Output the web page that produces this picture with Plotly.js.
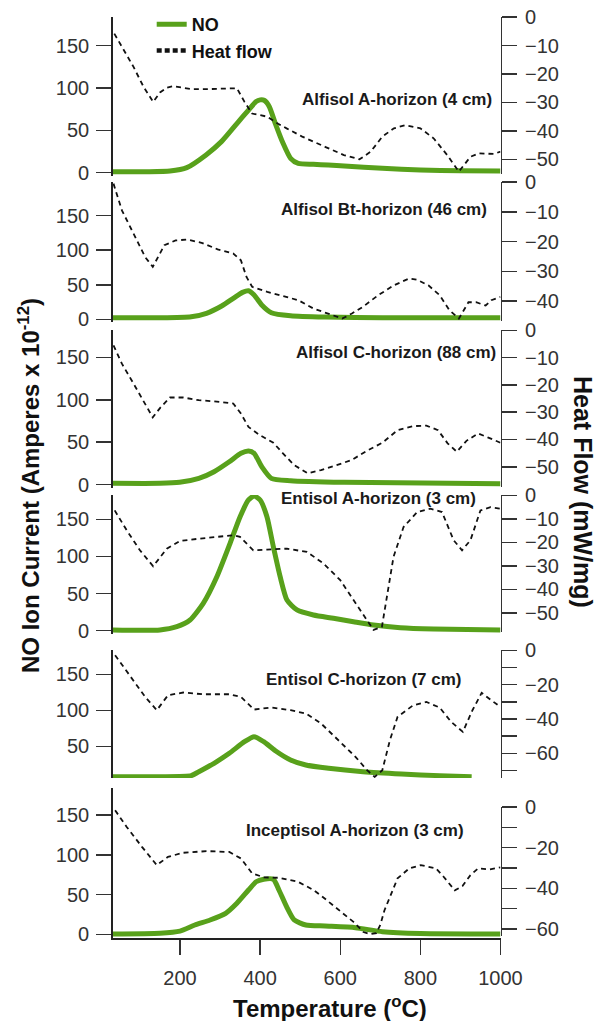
<!DOCTYPE html>
<html>
<head>
<meta charset="utf-8">
<script src="https://cdn.plot.ly/plotly-3.0.1.min.js"></script>
<style>html,body{margin:0;padding:0;background:#fff;}#chart{width:599px;height:1021px;}</style>
</head>
<body>
<div id="chart"></div>
<script>
// ---------- DATA ----------
const panelLabels = ["Alfisol A-horizon (4 cm)", "Alfisol Bt-horizon (46 cm)", "Alfisol C-horizon (88 cm)",
  "Entisol A-horizon (3 cm)", "Entisol C-horizon (7 cm)", "Inceptisol A-horizon (3 cm)"];

// Panel 1: Alfisol A-horizon (4 cm)
const p1_no_T = [32,120,175,217,265,304,342,371,390,400,410,423,438,457,476,495,533,570,610,705,800,900,1000];
const p1_no   = [1.2,1.2,2,6,21,37,58,74,84,86,85.5,78,58,35,17,11,10,9,8,5.2,3.2,2.3,2];
const p1_hf_T = [36,51,84,109,133,150,167,183,230,270,310,342,361,380,418,445,466,505,562,609,648,676,705,734,762,800,833,867,896,925,946,983,1000];
const p1_hf   = [-5.8,-9.3,-17.5,-24.5,-29.8,-26.5,-24.8,-24.3,-25.3,-25.3,-25,-25,-29.8,-33.9,-35,-37.5,-39.1,-42,-45.6,-48.5,-50,-47.3,-42,-39.1,-38,-39.1,-42.6,-48.5,-54.3,-49.1,-47.9,-48.1,-47.3];

// Panel 2: Alfisol Bt-horizon (46 cm)
const p2_no_T = [32,150,228,266,304,333,356,371,385,404,428,476,562,705,1000];
const p2_no   = [2.3,2.3,3.8,8.7,19.3,30.4,39,41.4,35.2,20.7,9.6,5.2,3.3,2.3,2.3];
const p2_hf_T = [34,55,84,113,132,161,189,218,256,294,333,352,366,380,418,457,495,533,571,605,629,657,695,734,772,791,820,848,872,896,920,939,963,977,1000];
const p2_hf   = [-0.5,-9.5,-17.3,-25.2,-28.5,-21.2,-19.6,-19.3,-20.5,-22.6,-24,-26.3,-31.9,-35.2,-36.9,-38.4,-39.7,-42.5,-44.2,-45.9,-44.2,-41.9,-38,-34.7,-32.4,-32.8,-34.7,-38,-43,-45.9,-40.4,-40.4,-41.5,-39.7,-38.6];

// Panel 3: Alfisol C-horizon (88 cm)
const p3_no_T = [32,150,199,247,285,323,352,371,385,404,428,476,610,1000];
const p3_no   = [1.6,1.6,2.8,7.5,15.3,27,37,39.7,37,21.2,7.5,4.7,2.8,1.2];
const p3_hf_T = [34,55,84,113,132,151,175,208,247,285,333,352,371,399,433,457,485,519,552,591,629,667,705,743,782,815,844,868,891,915,944,968,1000];
const p3_hf   = [-5.5,-12.2,-19.5,-26.8,-31.9,-28.3,-24.6,-24.6,-25.6,-26,-26.8,-30.5,-35.4,-38.4,-41.2,-45.1,-49.4,-52.4,-51.2,-49.4,-47.5,-44.1,-41.2,-36.6,-35.1,-34.9,-36.6,-41.4,-44.5,-40.5,-37.8,-39.2,-41.2];

// Panel 4: Entisol A-horizon (3 cm)
const p4_no_T = [32,150,192,225,258,292,325,350,371,385,400,417,433,450,467,492,533,583,633,683,750,833,1000];
const p4_no   = [1,1,5.4,14.4,36.9,72.7,117.7,153.5,176,181.4,176,153.5,113.1,72.7,41.3,27.9,21.1,16.7,12.1,7.7,4,2.3,1];
const p4_hf_T = [37,67,100,133,167,200,250,292,333,350,383,417,467,517,558,600,633,667,683,704,717,733,758,792,825,854,883,904,925,950,975,1000];
const p4_hf   = [-6.4,-14.9,-23.4,-30.2,-22.7,-19.4,-18.4,-17.7,-17,-17.7,-23.4,-23.1,-22.7,-24.1,-29,-36.1,-44.6,-53.1,-57.3,-56,-43.2,-26.2,-13.5,-7.1,-5.7,-7.1,-19.1,-23.4,-19.1,-6.4,-5,-5.7];

// Panel 5: Entisol C-horizon (7 cm)
const p5_no_T = [32,150,228,247,285,323,361,385,409,438,476,514,571,657,753,848,928];
const p5_no   = [7.8,7.8,9.2,14.7,26.4,40.3,56.4,63.3,56.4,43.9,31,24,19.4,14.7,11.5,9.2,7.8];
const p5_hf_T = [38,84,113,142,170,208,256,323,352,385,428,476,514,552,591,638,667,686,705,724,743,782,815,848,877,906,930,953,977,1000];
const p5_hf   = [-2.9,-17.4,-27.1,-34.9,-26.2,-24.6,-25.6,-25.6,-27.1,-34.5,-33.3,-34.9,-36.8,-42.6,-51.3,-62,-69.8,-73.7,-69.8,-52.3,-38.8,-32,-30.1,-33.3,-41.7,-47.5,-34.9,-24.8,-29.1,-33];

// Panel 6: Inceptisol A-horizon (3 cm)
const p6_no_T = [32,150,200,237,275,314,342,371,390,409,433,447,466,485,514,562,638,705,800,1000];
const p6_no   = [0.4,1.3,4,11.7,18,26.4,39,55.7,66.1,69.2,69.2,55.7,34.7,18,11.7,10.4,8.3,3.3,1,0.4];
const p6_hf_T = [38,67,105,142,170,208,266,323,352,380,409,447,495,533,558,581,633,658,675,690,700,710,722,743,772,801,839,858,886,905,925,944,972,1000];
const p6_hf   = [-1.6,-9.8,-19.6,-28.6,-24.5,-22.5,-21.7,-22.1,-25.3,-32.6,-34.6,-34.8,-36.8,-40.8,-44.5,-48.2,-56.5,-61.5,-62.5,-62,-58,-51,-45,-35.1,-30.2,-28.6,-30.2,-34.3,-41,-38.9,-33.5,-30.2,-30.7,-29.7];

const leftTicks  = [[0,50,100,150],[0,50,100,150],[0,50,100,150],[0,50,100,150],[50,100,150],[0,50,100,150]];
const rightTicks = [[0,-10,-20,-30,-40,-50],[0,-10,-20,-30,-40],[0,-10,-20,-30,-40,-50],[0,-10,-20,-30,-40,-50],
                    [0,-20,-40,-60],[0,-20,-40,-60]];
const rightMinorStep = [null,null,null,null,10,10];
const xTicks = [200,400,600,800,1000];

// ---------- LAYOUT GEOMETRY (pixels) ----------
const W = 599, H = 1021;
const FONT = '"Liberation Sans", Arial, Helvetica, sans-serif';
const GREEN = '#58a11b';
const fy = p => 1 - p / H;
// [domTop, domBot, valA, pxA, valB, pxB]
const leftGeo = [
  [16.7,176,150,45.7,0,172.7],
  [181.7,322,150,215.7,0,319.3],
  [330,488,150,357.3,0,484.7],
  [495,634,150,519.3,0,630.7],
  [650,778,150,674.3,50,746.3],
  [788.3,937.7,150,815,0,934.3]
];
const rightGeo = [
  [16.7,174,0,16.7,-50,159.3],
  [181.7,321,0,181.7,-40,301],
  [330,487,0,330,-50,466.7],
  [495,632,0,495,-50,612.7],
  [650,778,0,650,-60,753.3],
  [806.7,936,0,806.7,-60,929]
];
const labelPos = [[494,99.3],[489,209.3],[498,352.3],[478,498.3],[464,679.3],[466,830]];
function rangeFrom(g){
  const [top,bot,vA,pA,vB,pB] = g; const k = (vB - vA)/(pB - pA);
  return [vA + (bot - pA)*k, vA + (top - pA)*k];
}

const NO_T = [p1_no_T,p2_no_T,p3_no_T,p4_no_T,p5_no_T,p6_no_T];
const NO_V = [p1_no,p2_no,p3_no,p4_no,p5_no,p6_no];
const HF_T = [p1_hf_T,p2_hf_T,p3_hf_T,p4_hf_T,p5_hf_T,p6_hf_T];
const HF_V = [p1_hf,p2_hf,p3_hf,p4_hf,p5_hf,p6_hf];

const traces = [];
const layout = {
  width: W, height: H, margin: {l:0,r:0,t:0,b:0},
  paper_bgcolor: '#fff', plot_bgcolor: 'rgba(0,0,0,0)',
  font: {family: FONT, color: '#333', size: 20},
  showlegend: true,
  legend: {x: 151.7/W, xanchor: 'left', y: fy(6), yanchor: 'top', bgcolor: 'rgba(0,0,0,0)',
           font: {family: FONT, size: 18, color: '#111', weight: 'bold'}, tracegroupgap: 0, itemwidth: 30},
  xaxis: {domain: [112.7/W, 500.5/W], range: [32, 1000], anchor: 'y6', tickvals: xTicks,
          ticks: 'outside', ticklen: 15, tickwidth: 1.5, tickcolor: '#333', ticklabelstandoff: 6,
          showline: true, linewidth: 2, linecolor: '#222', showgrid: false, zeroline: false,
          tickfont: {family: FONT, size: 20, color: '#333'}, automargin: false},
  annotations: []
};

for (let i = 0; i < 6; i++) {
  const li = i + 1, ri = i + 7;
  const lname = li === 1 ? 'yaxis' : 'yaxis' + li;
  layout[lname] = {
    domain: [fy(leftGeo[i][1]), fy(leftGeo[i][0])], range: rangeFrom(leftGeo[i]), anchor: 'x', side: 'left',
    tickvals: leftTicks[i], ticks: 'outside', ticklen: 15, tickwidth: 1.5, tickcolor: '#333', ticklabelstandoff: 3,
    showline: true, linewidth: 1.5, linecolor: '#222', showgrid: false, zeroline: false,
    tickfont: {family: FONT, size: 20, color: '#333'}, automargin: false
  };
  const ra = {
    domain: [fy(rightGeo[i][1]), fy(rightGeo[i][0])], range: rangeFrom(rightGeo[i]).map((v,j)=> j===1 ? v + 0.15 : v),
    anchor: 'x', side: 'right',
    tickvals: rightTicks[i], ticks: 'outside', ticklen: 15, tickwidth: 1.5, tickcolor: '#333', ticklabelstandoff: 4,
    showline: true, linewidth: 1.5, linecolor: '#333', showgrid: false, zeroline: false,
    tickfont: {family: FONT, size: 20, color: '#333'}, automargin: false
  };
  if (rightMinorStep[i]) {
    ra.minor = {tick0: 0, dtick: rightMinorStep[i], ticks: 'outside', ticklen: 15, tickwidth: 1.5, tickcolor: '#333', showgrid: false};
  }
  layout['yaxis' + ri] = ra;
  traces.push({x: HF_T[i], y: HF_V[i], xaxis: 'x', yaxis: 'y' + ri, type: 'scatter', mode: 'lines',
    line: {color: '#111', width: 1.8, dash: '5px,4px'}, showlegend: false, name: 'Heat flow', hoverinfo: 'skip'});
  traces.push({x: NO_T[i], y: NO_V[i], xaxis: 'x', yaxis: li === 1 ? 'y' : 'y' + li, type: 'scatter', mode: 'lines',
    line: {color: GREEN, width: 5, shape: 'spline', smoothing: 0.6}, showlegend: false, name: 'NO', hoverinfo: 'skip'});
  layout.annotations.push({xref: 'paper', yref: 'paper', x: labelPos[i][0]/W, y: fy(labelPos[i][1]),
    xanchor: 'right', yanchor: 'middle', showarrow: false, text: panelLabels[i],
    font: {family: FONT, size: 17, color: '#1a1a1a', weight: 'bold'}});
}
// legend entries
traces.push({x: [-500], y: [0], xaxis: 'x', yaxis: 'y', type: 'scatter', mode: 'lines', name: 'NO',
  line: {color: GREEN, width: 5}, showlegend: true});
traces.push({x: [-500], y: [0], xaxis: 'x', yaxis: 'y7', type: 'scatter', mode: 'lines', name: 'Heat flow',
  line: {color: '#111', width: 4.5, dash: '5px,3px'}, showlegend: true});

// axis titles
layout.annotations.push({xref: 'paper', yref: 'paper', x: 29/W, y: fy(486), xanchor: 'center', yanchor: 'middle',
  showarrow: false, textangle: -90, text: 'NO Ion Current (Amperes x 10<sup>-12</sup>)',
  font: {family: FONT, size: 24, color: '#111', weight: 'bold'}});
layout.annotations.push({xref: 'paper', yref: 'paper', x: 583/W, y: fy(492), xanchor: 'center', yanchor: 'middle',
  showarrow: false, textangle: 90, text: 'Heat Flow (mW/mg)',
  font: {family: FONT, size: 25, color: '#111', weight: 'bold'}});
layout.annotations.push({xref: 'paper', yref: 'paper', x: 330/W, y: fy(1006.7), xanchor: 'center', yanchor: 'middle',
  showarrow: false, text: 'Temperature (<sup>o</sup>C)',
  font: {family: FONT, size: 24, color: '#111', weight: 'bold'}});

Plotly.newPlot('chart', traces, layout, {staticPlot: true, displayModeBar: false});
</script>
</body>
</html>
